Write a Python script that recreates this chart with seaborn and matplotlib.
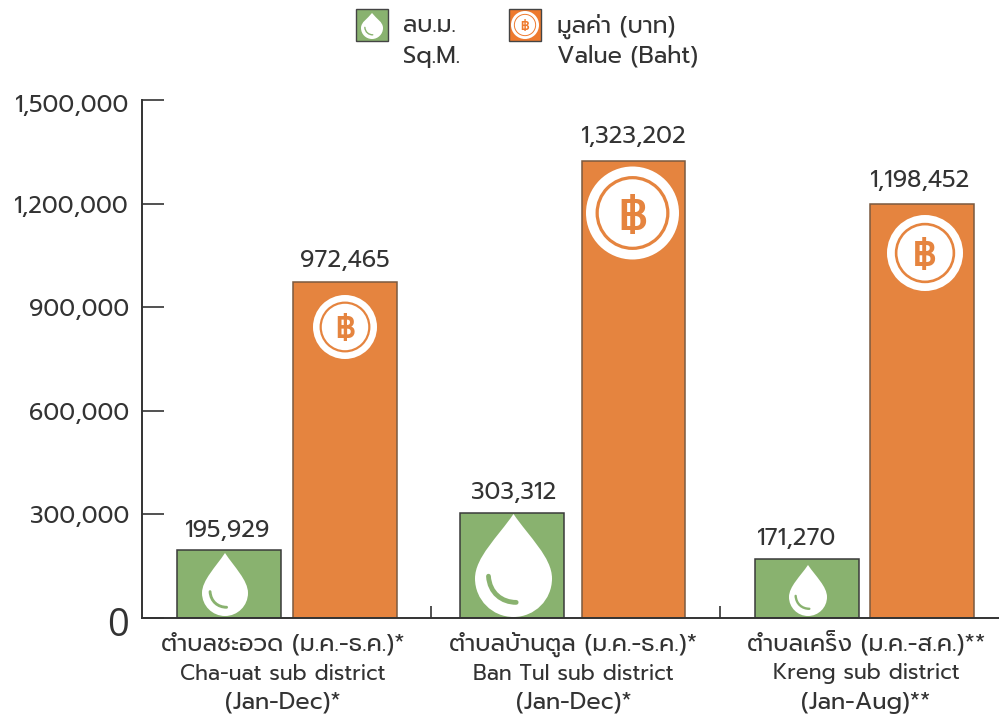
import matplotlib
matplotlib.use("Agg")
import matplotlib.pyplot as plt
import pandas as pd
import seaborn as sns
from matplotlib.patches import Circle, PathPatch, Rectangle
from matplotlib.path import Path
from matplotlib.transforms import Affine2D, ScaledTranslation

districts = ["Cha-uat", "Ban Tul", "Kreng"]
sq_m = [195929, 303312, 171270]
value_baht = [972465, 1323202, 1198452]
thai_labels = ["ตำบลชะอวด (ม.ค.-ธ.ค.)*", "ตำบลบ้านตูล (ม.ค.-ธ.ค.)*", "ตำบลเคร็ง (ม.ค.-ส.ค.)**"]
eng_labels = ["Cha-uat sub district", "Ban Tul sub district", "Kreng sub district"]
period_labels = ["(Jan-Dec)*", "(Jan-Dec)*", "(Jan-Aug)**"]
y_ticks = [0, 300000, 600000, 900000, 1200000, 1500000]

GREEN = "#89B26F"
ORANGE = "#E5843F"
LEGEND_ORANGE = "#EE7A2E"
INK = "#333333"

sns.set_style("white")
plt.rcParams["font.family"] = ["Prompt", "Kanit", "Anuphan", "DejaVu Sans"]

data = pd.DataFrame({
    "district": districts * 2,
    "measure": ["sqm"] * 3 + ["baht"] * 3,
    "amount": sq_m + value_baht,
})

fig = plt.figure(figsize=(9.99, 7.15), dpi=100)
W, H = 999, 715
ax = fig.add_axes([141.5 / W, 1 - 618 / H, (999 - 141.5) / W, (618 - 100) / H])
sns.barplot(data=data, x="district", y="amount", hue="measure", palette=[GREEN, ORANGE],
            gap=0.1, saturation=1, legend=False, ax=ax, linewidth=1.1, edgecolor="#3a3a3a")
for bar in ax.patches[3:]:
    bar.set_edgecolor("#7a5a40")
# middle green bar sits a little further from its partner
ax.patches[1].set_x(ax.patches[1].get_x() - 6 / 288.75)

ax.set_xlim((141.5 - 287) / 288.75, (999 - 287) / 288.75)
ax.set_ylim(0, 1500000)
ax.set_xlabel("")
ax.set_ylabel("")
ax.set_yticks(y_ticks)
ax.set_yticklabels([f"{v:,}" for v in y_ticks], fontsize=17, color=INK)
ax.tick_params(axis="y", direction="in", length=15.5, width=1.2, color=INK, pad=9, left=True)
ax.set_xticks([0.5, 1.5])
ax.set_xticklabels([])
ax.tick_params(axis="x", direction="in", length=8.6, width=1.2, color=INK, bottom=True)
for name in ["top", "right"]:
    ax.spines[name].set_visible(False)
for name in ["left", "bottom"]:
    ax.spines[name].set_color(INK)
    ax.spines[name].set_linewidth(1.4)

# the 0 is set larger and narrower, and the first and last labels hang below their ticks
labels = ax.get_yticklabels()
labels[0].set_fontsize(27.5)
labels[0].set_family(["Open Sans", "DejaVu Sans"])
nudge_down = ScaledTranslation(0, -3 / 72 * 0.72, fig.dpi_scale_trans)
labels[0].set_transform(labels[0].get_transform() + nudge_down)
labels[-1].set_transform(labels[-1].get_transform() + nudge_down)

# value labels, pixel nudges from the bar centre and top
label_dx = [-2, 1.5, -10, 0, 0, -2]
label_dy = [8, 9, 9, 10, 13, 12]
bars = [ax.patches[i] for i in range(6)]
for bar, dx, dy in zip(bars, label_dx, label_dy):
    ax.annotate(f"{int(bar.get_height()):,}", (bar.get_x() + bar.get_width() / 2, bar.get_height()),
                xytext=(dx * 0.72, dy * 0.72), textcoords="offset points", ha="center", va="bottom",
                fontsize=17, color=INK)

# pixel coordinates, origin top left, for the drawn icons
px = Affine2D().scale(1, -1).translate(0, H)


def draw_drop(cx, top, bottom, r):
    h = bottom - top
    cy = bottom - r
    k = 0.5523 * r
    verts = [(cx, top), (cx + 0.4 * r, top + 0.22 * h), (cx + r, cy - 0.55 * r), (cx + r, cy),
             (cx + r, cy + k), (cx + k, bottom), (cx, bottom),
             (cx - k, bottom), (cx - r, cy + k), (cx - r, cy),
             (cx - r, cy - 0.55 * r), (cx - 0.4 * r, top + 0.22 * h), (cx, top), (cx, top)]
    codes = [Path.MOVETO] + [Path.CURVE4] * 12 + [Path.CLOSEPOLY]
    fig.add_artist(PathPatch(Path(verts, codes), facecolor="white", edgecolor="none", transform=px))
    arc = [(cx - 0.65 * r, cy - 0.06 * r), (cx - 0.62 * r, cy + 0.38 * r),
           (cx - 0.3 * r, cy + 0.62 * r), (cx + 0.07 * r, cy + 0.62 * r)]
    fig.add_artist(PathPatch(Path(arc, [Path.MOVETO] + [Path.CURVE4] * 3), facecolor="none", edgecolor=GREEN,
                             linewidth=r * 0.09, capstyle="round", transform=px))


def draw_coin(cx, cy, r, color):
    fig.add_artist(Circle((cx, cy), r, facecolor="white", edgecolor="none", transform=px))
    fig.add_artist(Circle((cx, cy), 0.76 * r, facecolor="white", edgecolor=color,
                          linewidth=r * 0.05, transform=px))
    fig.text(cx / W, 1 - cy / H, "฿", fontsize=r * 0.68, color=color, weight="semibold",
             ha="center", va="center_baseline")


draw_drop(225, 553, 616, 23)
draw_drop(513.5, 514, 617, 38.5)
draw_drop(808, 565, 616, 19)
draw_coin(345, 327, 32, ORANGE)
draw_coin(632.5, 213, 46.5, ORANGE)
draw_coin(925, 253, 38, ORANGE)

# category labels
label_x = [283, 573.5, 866]
for i, cx in enumerate(label_x):
    fig.text(cx / W, 1 - 644 / H, thai_labels[i], fontsize=17.1, color=INK, ha="center", va="center")
    fig.text(cx / W, 1 - 674 / H, eng_labels[i], fontsize=15.3, color=INK, ha="center", va="center")
    fig.text(cx / W, 1 - 702 / H, period_labels[i], fontsize=17, color=INK, ha="center", va="center")

# legend
fig.add_artist(Rectangle((356, 9), 32, 32, facecolor=GREEN, edgecolor="#444444", linewidth=1, transform=px))
draw_drop(372, 13, 39, 11)
fig.add_artist(Rectangle((509, 9), 32, 32, facecolor=LEGEND_ORANGE, edgecolor="#444444", linewidth=1, transform=px))
draw_coin(525, 25, 14, LEGEND_ORANGE)
fig.text(403 / W, 1 - 26 / H, "ลบ.ม.", fontsize=17, color=INK, va="center")
fig.text(403 / W, 1 - 56 / H, "Sq.M.", fontsize=17, color=INK, va="center")
fig.text(557 / W, 1 - 26 / H, "มูลค่า (บาท)", fontsize=17, color=INK, va="center")
fig.text(557 / W, 1 - 56 / H, "Value (Baht)", fontsize=17, color=INK, va="center")

fig.savefig("out.png", dpi=100)
